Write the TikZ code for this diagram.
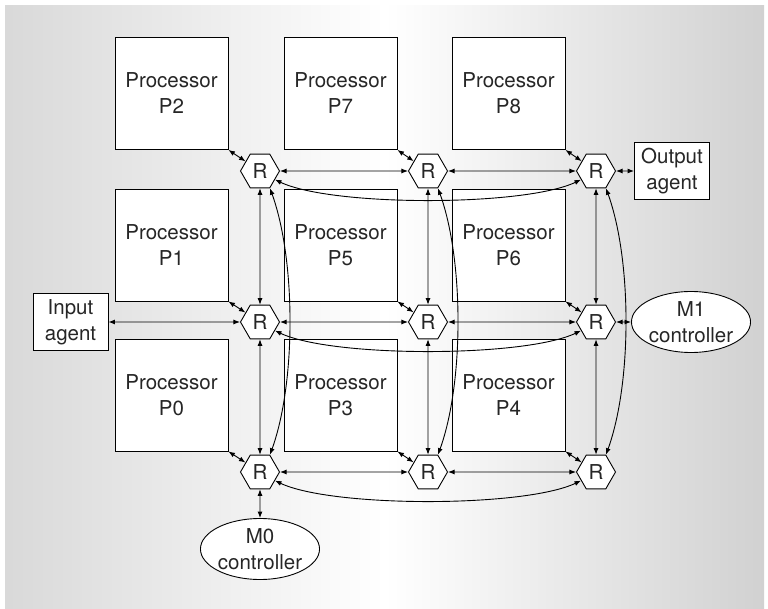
\documentclass[tikz,border=0pt]{standalone}
\usepackage{fontspec}
\setmainfont{TeX Gyre Heros}
\usetikzlibrary{shapes.geometric,arrows.meta}

\begin{document}
\begin{tikzpicture}[x=1pt,y=-1pt,
  every node/.style={font=\fontsize{20.5}{26}\selectfont, text=black!85},
  proc/.style={draw, fill=white, minimum width=113pt, minimum height=112pt,
    align=center, inner sep=0pt, line width=0.9pt},
  router/.style={draw, fill=white, regular polygon, regular polygon sides=6,
    minimum size=39pt, inner sep=0pt, line width=0.9pt},
  agent/.style={draw, fill=white, align=center, minimum width=75pt,
    minimum height=57pt, inner sep=0pt, line width=0.9pt},
  ctrl/.style={draw, fill=white, ellipse, align=center, minimum width=108pt,
    minimum height=61pt, inner sep=0pt, line width=0.9pt},
  link/.style={{Latex[length=6.5pt,width=5pt]}-{Latex[length=6.5pt,width=5pt]},
    line width=0.9pt},
]
% canvas and backdrop
\useasboundingbox (0,0) rectangle (768,609);
\fill[left color=black!15, right color=black!18, middle color=white]
  (5,6) rectangle (764,608);

% processors
\node[proc] (P2) at (171.5,93.5) {Processor\\P2};
\node[proc] (P7) at (340.5,93.5) {Processor\\P7};
\node[proc] (P8) at (508.5,93.5) {Processor\\P8};
\node[proc] (P1) at (171.5,245) {Processor\\P1};
\node[proc] (P5) at (340.5,245) {Processor\\P5};
\node[proc] (P6) at (508.5,245) {Processor\\P6};
\node[proc] (P0) at (171.5,395) {Processor\\P0};
\node[proc] (P3) at (340.5,395) {Processor\\P3};
\node[proc] (P4) at (508.5,395) {Processor\\P4};

% routers: R<column><row>
\foreach \c/\x in {0/260,1/428,2/596}
  \foreach \r/\y in {0/171,1/322,2/472}
    \node[router] (R\c\r) at (\x,\y) {R};

% agents and memory controllers
\node[agent] (In)  at (70.5,322) {Input\\agent};
\node[agent] (Out) at (672,171) {Output\\agent};
\node[ctrl]  (M1)  at (691,322) {M1\\controller};
\node[ctrl]  (M0)  at (260,549) {M0\\controller};

% processor to router
\draw[link] (P2.south east) -- (R00);
\draw[link] (P7.south east) -- (R10);
\draw[link] (P8.south east) -- (R20);
\draw[link] (P1.south east) -- (R01);
\draw[link] (P5.south east) -- (R11);
\draw[link] (P6.south east) -- (R21);
\draw[link] (P0.south east) -- (R02);
\draw[link] (P3.south east) -- (R12);
\draw[link] (P4.south east) -- (R22);

% mesh links
\foreach \r in {0,1,2} {
  \draw[link] (R0\r) -- (R1\r);
  \draw[link] (R1\r) -- (R2\r);
  \draw[link] (R0\r.-30) .. controls +(57,27) and +(-57,27) .. (R2\r.-150);
}
\foreach \c in {0,1,2} {
  \draw[link] (R\c0) -- (R\c1);
  \draw[link] (R\c1) -- (R\c2);
  \draw[link] (R\c0.-60) .. controls +(26,72) and +(26,-72) .. (R\c2.60);
}

% external ports
\draw[link] (In) -- (R01);
\draw[link] (R20) -- (Out);
\draw[link] (R21) -- (M1);
\draw[link] (R02) -- (M0);
\end{tikzpicture}
\end{document}
